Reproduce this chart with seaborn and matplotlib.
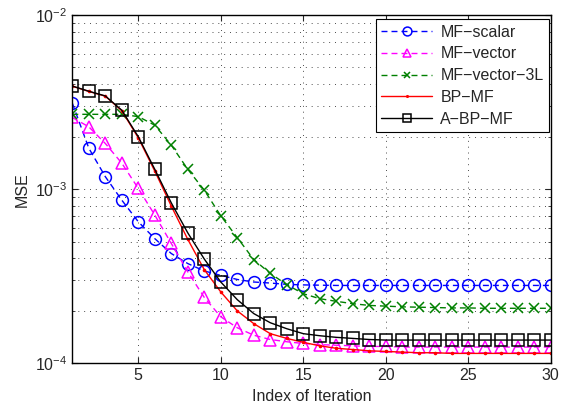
import numpy as np
import pandas as pd
import matplotlib
matplotlib.use("Agg")
import matplotlib.pyplot as plt
import seaborn as sns

# Iteration index
iters = list(range(1, 31))

# MSE values (log scale)
mf_scalar = [3.12e-3, 1.72e-3, 1.18e-3, 8.65e-4, 6.5e-4, 5.2e-4, 4.27e-4, 3.74e-4, 3.39e-4, 3.2e-4,
             3.03e-4, 2.93e-4, 2.89e-4, 2.84e-4, 2.82e-4, 2.81e-4, 2.8e-4, 2.8e-4, 2.8e-4, 2.8e-4,
             2.8e-4, 2.8e-4, 2.8e-4, 2.8e-4, 2.8e-4, 2.8e-4, 2.8e-4, 2.8e-4, 2.8e-4, 2.8e-4]
mf_vector = [2.58e-3, 2.28e-3, 1.83e-3, 1.41e-3, 1.01e-3, 7.1e-4, 4.88e-4, 3.35e-4, 2.39e-4, 1.85e-4,
             1.6e-4, 1.45e-4, 1.37e-4, 1.33e-4, 1.3e-4, 1.28e-4, 1.27e-4, 1.26e-4, 1.25e-4, 1.25e-4,
             1.24e-4, 1.24e-4, 1.24e-4, 1.24e-4, 1.24e-4, 1.24e-4, 1.24e-4, 1.24e-4, 1.24e-4, 1.24e-4]
mf_vector_3l = [2.69e-3, 2.69e-3, 2.69e-3, 2.69e-3, 2.61e-3, 2.33e-3, 1.79e-3, 1.3e-3, 9.87e-4, 7.03e-4,
                5.27e-4, 3.94e-4, 3.28e-4, 2.83e-4, 2.51e-4, 2.35e-4, 2.27e-4, 2.2e-4, 2.15e-4, 2.13e-4,
                2.11e-4, 2.1e-4, 2.09e-4, 2.08e-4, 2.08e-4, 2.07e-4, 2.07e-4, 2.07e-4, 2.07e-4, 2.07e-4]
bp_mf = [3.9e-3, 3.64e-3, 3.42e-3, 2.82e-3, 1.97e-3, 1.27e-3, 8.0e-4, 5.15e-4, 3.45e-4, 2.57e-4,
         2.0e-4, 1.69e-4, 1.48e-4, 1.39e-4, 1.32e-4, 1.26e-4, 1.22e-4, 1.2e-4, 1.18e-4, 1.17e-4,
         1.16e-4, 1.15e-4, 1.15e-4, 1.14e-4, 1.14e-4, 1.14e-4, 1.14e-4, 1.14e-4, 1.14e-4, 1.14e-4]
a_bp_mf = [3.91e-3, 3.65e-3, 3.43e-3, 2.84e-3, 2.0e-3, 1.3e-3, 8.34e-4, 5.61e-4, 3.97e-4, 2.93e-4,
           2.32e-4, 1.93e-4, 1.71e-4, 1.58e-4, 1.48e-4, 1.44e-4, 1.41e-4, 1.39e-4, 1.37e-4, 1.36e-4,
           1.36e-4, 1.36e-4, 1.36e-4, 1.36e-4, 1.36e-4, 1.36e-4, 1.36e-4, 1.36e-4, 1.36e-4, 1.36e-4]

labels = ["MF\u2212scalar", "MF\u2212vector", "MF\u2212vector\u22123L", "BP\u2212MF", "A\u2212BP\u2212MF"]

df = pd.DataFrame({"iter": iters, labels[0]: mf_scalar, labels[1]: mf_vector,
                   labels[2]: mf_vector_3l, labels[3]: bp_mf, labels[4]: a_bp_mf})

sns.set_style("ticks")
plt.rcParams["font.family"] = ["Liberation Sans", "DejaVu Sans"]
plt.rcParams["font.size"] = 11.5

fig = plt.figure(figsize=(5.72, 4.09), dpi=100)
ax = fig.add_axes([0.1264, 0.1117, 0.8364, 0.8516])

dash = (0, (4.3, 2.9))
# (label, color, linestyle, marker, markersize)
styles = [
    (labels[0], (0, 0, 1), dash, "o", 8.5),
    (labels[1], (1, 0, 1), dash, "^", 8.5),
    (labels[2], (0, 0.5, 0), dash, "x", 6.5),
    (labels[3], (1, 0, 0), "-", ".", 3),
    (labels[4], (0, 0, 0), "-", "s", 8),
]
for name, col, ls, mk, ms in styles:
    sns.lineplot(data=df, x="iter", y=name, ax=ax, color=col, linestyle=ls, lw=1,
                 marker=mk, markersize=ms, mfc="none" if mk in "o^s" else col,
                 mec=col, mew=1.1, label=name)

ax.set_yscale("log")
ax.set_xlim(1, 30)
ax.set_ylim(1e-4, 1e-2)
ax.set_xticks([5, 10, 15, 20, 25, 30])
ax.set_xlabel("Index of Iteration", fontsize=11.5)
ax.set_ylabel("MSE", fontsize=11.5)
ax.tick_params(which="both", direction="in", top=True, right=True, labelsize=11.5)
ax.tick_params(which="major", length=4)
ax.tick_params(which="minor", length=2)
grid_ls = (0, (1, 5))
ax.grid(True, which="major", axis="both", linestyle=grid_ls, color="k", lw=0.7, alpha=0.7)
ax.grid(True, which="minor", axis="y", linestyle=grid_ls, color="k", lw=0.7, alpha=0.7)
for s in ax.spines.values():
    s.set_linewidth(1)
    s.set_color("k")

leg = ax.legend(loc="upper right", bbox_to_anchor=(0.997, 0.988), fancybox=False,
                edgecolor="k", framealpha=1, fontsize=11.5, handlelength=3.2,
                borderpad=0.35, labelspacing=0.42, handletextpad=0.5, borderaxespad=0,
                markerscale=0.75)
leg.get_frame().set_linewidth(0.8)

fig.savefig("out.png", dpi=100)
